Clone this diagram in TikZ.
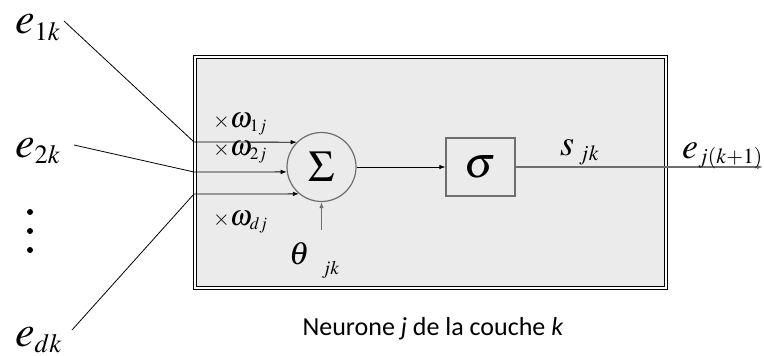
\documentclass[tikz,border=0pt]{standalone}
\usepackage{amsmath}
\usepackage{mathptmx}
\usepackage[no-math]{fontspec}
\newfontfamily\calibri{Carlito}
\usetikzlibrary{arrows.meta,calc}
\definecolor{boxgray}{HTML}{6E6E6E}
\definecolor{panel}{HTML}{EBEBEB}
\newcommand{\ssub}[1]{_{\scriptscriptstyle #1}}
\newcommand{\wt}[1]{{\scriptstyle\times}\omega\ssub{#1}}

\begin{document}
\begin{tikzpicture}[x=1pt,y=-1pt,
		>={Latex[length=6pt,width=4.5pt]},
		wire/.style={line width=0.8pt},
		grayline/.style={draw=boxgray,line width=1.2pt},
		lbl/.style={anchor=base west,inner sep=0pt},
		fsize/.style={font=\fontsize{#1}{#1}\selectfont}]
		\useasboundingbox (0,0) rectangle (764,356);
		
		% the neuron
		\node[draw, double, double distance=1.6pt, line width=1pt, fill=panel, inner sep=0pt, minimum width=471.4pt, minimum height=231.4pt] (neuron) at (430.5,172.5) {};
		\node[circle, grayline, minimum size=69pt, inner sep=0pt, fsize=44] (sum) at (321.5,167) {$\Sigma$};
		\node[grayline, minimum width=69pt, minimum height=58pt, inner sep=0pt, fsize=44] (act) at (480.5,167) {$\sigma$};
		\node[anchor=base, inner sep=0pt, font={\calibri\fontsize{26}{30}\selectfont}] (cap) at (433,335) {Neurone \textit{j} de la couche \textit{k}};
		
		% the inputs
		\node[lbl, fsize=44] (e1) at (15,34) {$e\ssub{1k}$};
		\node[lbl, fsize=44] (e2) at (15,157) {$e\ssub{2k}$};
		\node[lbl, fsize=44] (ed) at (15,346) {$e\ssub{dk}$};
		\foreach \y in {212,231,250}
			\fill (30,\y) circle (3pt);
		\coordinate (in1) at (64,21);
		\coordinate (in2) at (74,145);
		\coordinate (ind) at (72,330);
		\coordinate (b1) at (194,142);
		\coordinate (b2) at (194,172);
		\coordinate (bd) at (194,194);
		\draw [wire, ->] (in1) -- (b1) -- (sum.135);
		\draw [wire, ->] (in2) -- (b2) -- (sum.188);
		\draw [wire, ->] (ind) -- (bd) -- (sum.230);
		\node[lbl, fsize=29] (w1) at (213,127) {$\wt{1j}$};
		\node[lbl, fsize=29] (w2) at (213,155) {$\wt{2j}$};
		\node[lbl, fsize=29] (wd) at (213,225) {$\wt{dj}$};
		
		% bias and output
		\coordinate (bias) at (321.5,230);
		\draw [grayline, ->] (bias) -- (sum.south);
		\node[lbl, fsize=32] (theta) at (289,264) {$\theta_{\mkern12mu\raisebox{-6pt}{$\scriptscriptstyle jk$}}$};
		\draw [wire, ->] (sum) -- (act);
		\coordinate (out) at (763,167);
		\draw [grayline, ->] (act.east) -- (out);
		\node[lbl, fsize=36] (s) at (560,155) {$s\ssub{\mkern4mu jk}$};
		\node[lbl, fsize=36] (eout) at (682,158) {$e\ssub{j(k+1)}$};
\end{tikzpicture}
\end{document}
